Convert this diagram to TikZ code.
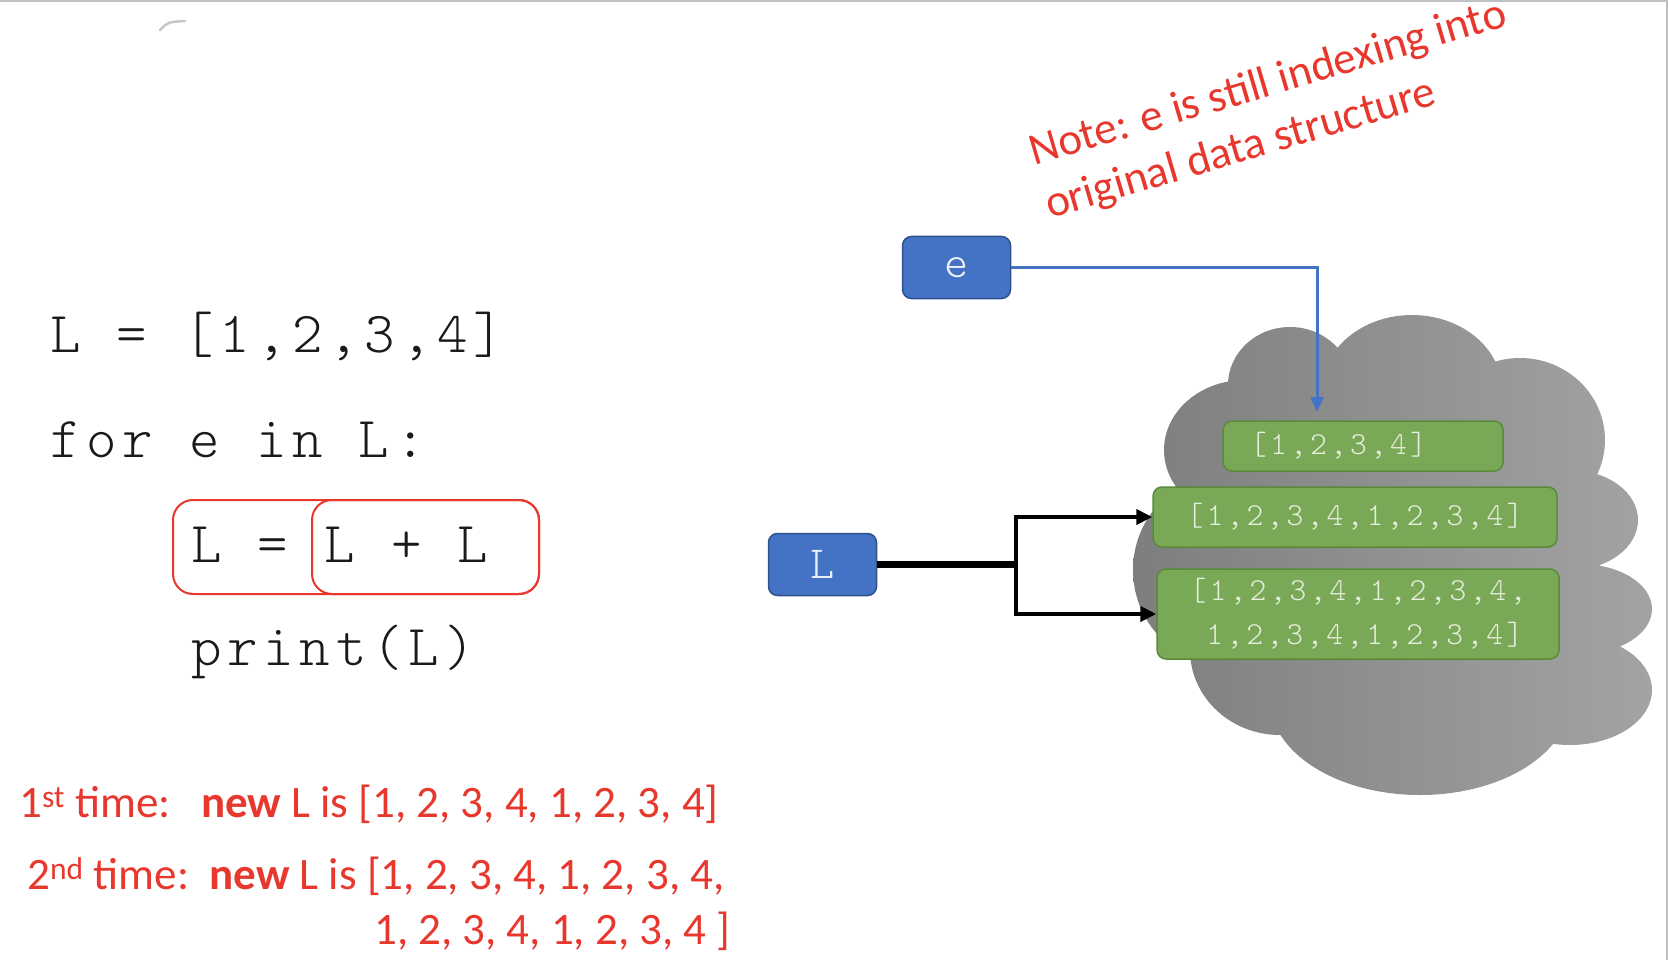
\documentclass[tikz,border=0pt]{standalone}
\usepackage{fontspec}
\setmainfont{Carlito}
\newfontfamily\codefont{Latin Modern Mono Light}[LetterSpace=10]
\usetikzlibrary{arrows.meta}

\definecolor{boxblue}{HTML}{4472C4}
\definecolor{boxblueedge}{HTML}{2F528F}
\definecolor{boxgreen}{HTML}{79A956}
\definecolor{boxgreenedge}{HTML}{5B8A3C}
\definecolor{listtext}{HTML}{E6EEDD}
\definecolor{notered}{HTML}{E8382D}
\definecolor{cloudlo}{HTML}{7E7E7E}
\definecolor{cloudhi}{HTML}{A3A3A3}
\definecolor{framegray}{HTML}{C0C0C0}
\definecolor{codeink}{HTML}{1A1A1A}

\begin{document}
\begin{tikzpicture}[x=1pt,y=-1pt,
  code/.style={anchor=base west, inner sep=0pt, text=codeink,
    font=\codefont\fontsize{58}{58}\selectfont},
  redline/.style={anchor=base west, inner sep=0pt, text=notered,
    font=\fontsize{45}{45}\selectfont},
  notetext/.style={anchor=base west, inner sep=0pt, text=notered, rotate=16.5,
    font=\fontsize{45}{45}\selectfont},
  varbox/.style={draw=boxblueedge, line width=1.5pt, fill=boxblue, rounded corners=9pt,
    minimum width=108pt, minimum height=62pt, inner sep=0pt, text=white!90!boxblue,
    font=\codefont\fontsize{46}{46}\selectfont},
  listbox/.style={draw=boxgreenedge, line width=1.5pt, fill=boxgreen, rounded corners=9pt,
    inner sep=0pt, text=listtext, font=\codefont\fontsize{32}{44}\selectfont},
  hlbox/.style={draw=notered, line width=2pt, rounded corners=20pt},
  eptr/.style={draw=boxblue, line width=3pt, -{Triangle[length=15pt,width=13pt]}},
  lptr/.style={draw=black, line width=4pt, -{Triangle[length=16pt,width=15pt]}},
]
\useasboundingbox (0,0) rectangle (1668,960);

% page frame and stray mark
\draw[framegray, line width=2pt] (0,1) -- (1667,1) -- (1667,960);
\draw[gray!45, line width=2.5pt, line cap=round] (160,30) .. controls (168,22) .. (185,21);

% heap cloud
\shade[left color=cloudlo, right color=cloudhi]
  (1290,385) ellipse [x radius=62pt, y radius=58pt]
  (1412,390) ellipse [x radius=90pt, y radius=75pt]
  (1520,440) ellipse [x radius=85pt, y radius=82pt]
  (1570,520) ellipse [x radius=68pt, y radius=50pt]
  (1580,609) ellipse [x radius=72pt, y radius=45pt]
  (1570,690) ellipse [x radius=82pt, y radius=55pt]
  (1420,700) ellipse [x radius=150pt, y radius=95pt]
  (1280,650) ellipse [x radius=90pt, y radius=85pt]
  (1225,570) ellipse [x radius=92pt, y radius=95pt]
  (1245,450) ellipse [x radius=81pt, y radius=70pt]
  (1400,550) ellipse [x radius=200pt, y radius=190pt];

% source code
\node[code] (c1) at (50,352) {L = [1,2,3,4]};
\node[code] (c2) at (50,457) {for e in L:};
\node[code] (c3) at (191,562) {L = L + L};
\node[code] (c4) at (191,665) {print(L)};

% highlight of the assignment and of its right-hand side
\draw[hlbox] (173,500) rectangle (539,594);
\draw[hlbox] (312,500) rectangle (539,594);

% results of each iteration
\node[redline] (t1) at (19,817) {1\textsuperscript{st} time:\ \ \ \textbf{new} L is [1, 2, 3, 4, 1, 2, 3, 4]};
\node[redline] (t2) at (27,889) {2\textsuperscript{nd} time:\ \ \textbf{new} L is [1, 2, 3, 4, 1, 2, 3, 4,};
\node[redline] (t3) at (374,944) {1, 2, 3, 4, 1, 2, 3, 4 ]};

% note
\node[notetext] (n1) at (1034,166) {Note: e is still indexing into};
\node[notetext] (n2) at (1050,219) {original data structure};

% variables
\node[varbox] (ebox) at (956.5,267.5) {e};
\node[varbox] (lbox) at (822.5,564.5) {L};

% lists on the heap
\node[listbox, minimum width=280pt, minimum height=50pt, inner xsep=27pt,
  text width=226pt, align=left] (g1) at (1363,446) {[1,2,3,4]};
\node[listbox, minimum width=404pt, minimum height=60pt] (g2) at (1355,517) {[1,2,3,4,1,2,3,4]};
\node[listbox, minimum width=402pt, minimum height=90pt, align=left] (g3) at (1358,614)
  {[1,2,3,4,1,2,3,4,\\\phantom{[}1,2,3,4,1,2,3,4]};

% pointers
\coordinate (etip) at (1317,412);
\draw[eptr] (ebox.east) -| (etip);

\coordinate (split) at (1016,564.5);
\draw[line width=7pt] (lbox.east) -- (split);
\draw[lptr] (split) |- (g2.west);
\draw[lptr] (split) |- (g3.west);
\end{tikzpicture}
\end{document}
